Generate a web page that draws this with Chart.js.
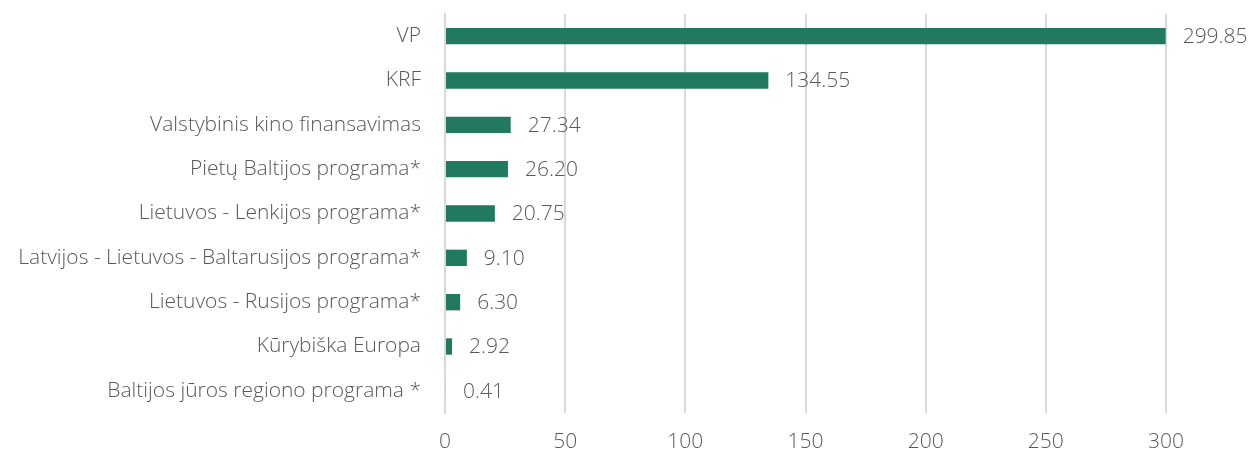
<!DOCTYPE html>
<html>
<head>
<meta charset="utf-8">
<script src="https://cdn.jsdelivr.net/npm/chart.js@4"></script>
<style>
  html, body { margin: 0; padding: 0; background: #fff; }
  #wrap { width: 1252px; height: 452px; }
</style>
</head>
<body>
<div id="wrap"><canvas id="chart"></canvas></div>
<script>
const categories = [
  'VP',
  'KRF',
  'Valstybinis kino finansavimas',
  'Pietų Baltijos programa*',
  'Lietuvos - Lenkijos programa*',
  'Latvijos - Lietuvos - Baltarusijos programa*',
  'Lietuvos - Rusijos programa*',
  'Kūrybiška Europa',
  'Baltijos jūros regiono programa *',
];
const values = [299.85, 134.55, 27.34, 26.20, 20.75, 9.10, 6.30, 2.92, 0.41];
const xTicks = [0, 50, 100, 150, 200, 250, 300];

const textColor = '#595959';
const fontFamily = '"Open Sans", sans-serif';
const fontSize = 21;

// draws the value next to the end of each bar
const valueLabels = {
  id: 'valueLabels',
  afterDatasetsDraw(chart) {
    const ctx = chart.ctx;
    const meta = chart.getDatasetMeta(0);
    ctx.save();
    ctx.font = '300 ' + fontSize + 'px ' + fontFamily;
    ctx.fillStyle = textColor;
    ctx.textAlign = 'left';
    ctx.textBaseline = 'middle';
    meta.data.forEach((bar, i) => {
      ctx.fillText(values[i].toFixed(2), bar.x + 17, bar.y + 1);
    });
    ctx.restore();
  },
};

new Chart(document.getElementById('chart'), {
  type: 'bar',
  data: {
    labels: categories,
    datasets: [{
      data: values,
      backgroundColor: '#217a5f',
      categoryPercentage: 1,
      barPercentage: 0.37,
    }],
  },
  options: {
    indexAxis: 'y',
    responsive: true,
    maintainAspectRatio: false,
    animation: false,
    layout: { padding: { top: 14, right: 86, left: 0, bottom: 0 } },
    plugins: { legend: { display: false }, tooltip: { enabled: false } },
    scales: {
      x: {
        min: 0,
        max: 300,
        afterBuildTicks: (scale) => { scale.ticks = xTicks.map((v) => ({ value: v })); },
        afterFit: (scale) => { scale.height = 39; },
        grid: { color: '#d9d9d9', lineWidth: 2, drawTicks: false },
        border: { display: false },
        ticks: { color: textColor, font: { family: fontFamily, size: fontSize, weight: '300' }, padding: 16 },
      },
      y: {
        afterFit: (scale) => { scale.width = 445; scale.paddingTop = 0; scale.paddingBottom = 0; },
        grid: { display: false, drawTicks: false },
        border: { display: true, color: '#d9d9d9', width: 2 },
        ticks: { color: textColor, font: { family: fontFamily, size: fontSize, weight: '300' }, padding: 24 },
      },
    },
  },
  plugins: [valueLabels],
});
</script>
</body>
</html>
